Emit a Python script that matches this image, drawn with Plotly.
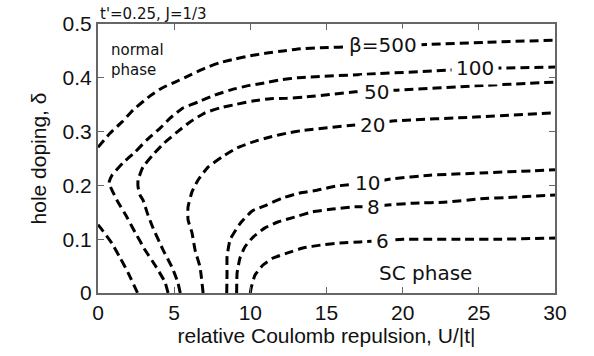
import plotly.graph_objects as go

# ---- data (U/|t|, hole doping) ----
u_500_upper = [0, 0.79, 1.58, 2.3, 3.4, 4.2, 5.06, 6.04, 7.03, 8.0, 9.0, 10.0, 11.1, 12.15, 13.3, 14.6, 17.0, 18.7, 21.7, 25.5, 30]
d_500_upper = [0.271, 0.297, 0.318, 0.340, 0.366, 0.381, 0.392, 0.405, 0.418, 0.428, 0.435, 0.441, 0.446, 0.450, 0.454, 0.456, 0.458, 0.460, 0.462, 0.466, 0.470]
u_500_lower = [0, 0.33, 0.92, 1.44, 1.97, 2.6]
d_500_lower = [0.127, 0.115, 0.092, 0.066, 0.038, 0.0]

u_100 = [4.6, 4.40, 3.74, 3.09, 2.43, 1.90, 1.31, 0.92, 0.72, 0.92, 1.64, 2.43, 3.22, 4.1, 4.73, 5.58, 6.57, 7.68, 8.67, 9.78, 10.83, 11.95, 13.07, 17.9, 22.9, 24.75, 30]
d_100 = [0.0, 0.020, 0.052, 0.080, 0.113, 0.141, 0.169, 0.191, 0.205, 0.219, 0.242, 0.262, 0.285, 0.307, 0.325, 0.344, 0.355, 0.368, 0.377, 0.385, 0.390, 0.396, 0.400, 0.407, 0.414, 0.417, 0.420]

u_50 = [5.4, 5.25, 4.86, 4.27, 3.61, 3.28, 2.95, 2.76, 2.63, 2.63, 2.95, 3.61, 4.35, 5.19, 6.04, 7.03, 8.0, 9.13, 10.18, 11.3, 12.4, 13.5, 16.9, 18.3, 19.6, 24.75, 30]
d_50 = [0.0, 0.019, 0.048, 0.080, 0.121, 0.145, 0.173, 0.182, 0.197, 0.210, 0.234, 0.257, 0.279, 0.299, 0.318, 0.335, 0.344, 0.351, 0.357, 0.361, 0.362, 0.364, 0.374, 0.376, 0.377, 0.385, 0.392]

u_20 = [6.9, 6.70, 6.37, 6.17, 5.91, 5.91, 6.17, 6.57, 7.22, 8.14, 9.15, 10.18, 11.3, 12.4, 13.4, 16.7, 18.05, 19.5, 24.75, 30]
d_20 = [0.0, 0.048, 0.080, 0.112, 0.136, 0.160, 0.188, 0.210, 0.234, 0.253, 0.270, 0.281, 0.290, 0.297, 0.302, 0.312, 0.315, 0.320, 0.327, 0.335]

u_10 = [8.45, 8.47, 8.47, 8.67, 9.3, 10.1, 11.1, 12.15, 13.26, 14.38, 15.7, 17.66, 19.2, 21.8, 25.1, 28.4, 30]
d_10 = [0.0, 0.037, 0.067, 0.099, 0.128, 0.152, 0.164, 0.177, 0.186, 0.191, 0.199, 0.204, 0.212, 0.219, 0.223, 0.227, 0.229]

u_8 = [9.1, 9.13, 9.32, 9.65, 10.18, 10.96, 11.8, 12.9, 14.1, 15.4, 16.7, 18.06, 19.2, 20.7, 22.9, 25.1, 27.2, 30]
d_8 = [0.0, 0.037, 0.065, 0.086, 0.104, 0.121, 0.132, 0.141, 0.151, 0.156, 0.160, 0.161, 0.164, 0.167, 0.169, 0.175, 0.178, 0.182]

u_6 = [10.0, 10.05, 10.3, 10.83, 11.5, 12.4, 13.5, 14.6, 15.9, 17.2, 18.7, 20.0, 21.8, 24.0, 26.2, 30]
d_6 = [0.0, 0.009, 0.033, 0.052, 0.065, 0.074, 0.084, 0.089, 0.093, 0.095, 0.097, 0.100, 0.100, 0.100, 0.100, 0.102]

curves = [
    (u_500_upper, d_500_upper), (u_500_lower, d_500_lower),
    (u_100, d_100), (u_50, d_50), (u_20, d_20),
    (u_10, d_10), (u_8, d_8), (u_6, d_6),
]

label_texts = ["β=500", "100", "50", "20", "10", "8", "6"]
label_u = [18.7, 24.75, 18.3, 18.05, 17.66, 18.06, 18.7]
label_d = [0.461, 0.418, 0.374, 0.313, 0.204, 0.159, 0.096]

x_ticks = [0, 5, 10, 15, 20, 25, 30]
y_ticks = [0, 0.1, 0.2, 0.3, 0.4, 0.5]
y_ticktext = ["0", "0.1", "0.2", "0.3", "0.4", "0.5"]

fig = go.Figure()
for u, d in curves:
    fig.add_trace(go.Scatter(
        x=u, y=d, mode="lines",
        line=dict(color="black", width=3, dash="9px,5px", shape="spline", smoothing=0.4),
        showlegend=False, hoverinfo="skip"))

inline_font = dict(family="DejaVu Sans", size=20, color="#111")
for t, x, y in zip(label_texts, label_u, label_d):
    fig.add_annotation(x=x, y=y, text=t, showarrow=False, font=inline_font,
                       bgcolor="white", borderpad=4, xanchor="center", yanchor="middle")

fig.add_annotation(x=21.5, y=0.037, text="SC phase", showarrow=False,
                   font=dict(family="DejaVu Sans", size=20, color="#111"))
fig.add_annotation(x=0.75, y=0.472, text="normal<br>phase", showarrow=False, align="left",
                   xanchor="left", yanchor="top",
                   font=dict(family="DejaVu Sans", size=15, color="#111"))
fig.add_annotation(xref="paper", yref="paper", x=0, y=1, xanchor="left", yanchor="bottom",
                   xshift=0, yshift=-1, text="t'=0.25, J=1/3", showarrow=False,
                   font=dict(family="DejaVu Sans", size=15, color="#111"))

axis_common = dict(showline=True, linecolor="#666", linewidth=2, mirror="ticks",
                   ticks="inside", ticklen=6, tickcolor="#666", tickwidth=1,
                   showgrid=False, zeroline=False,
                   tickfont=dict(family="Liberation Sans", size=21, color="#111"))

fig.update_layout(
    width=594, height=356,
    margin=dict(l=98, r=39, t=24, b=63),
    paper_bgcolor="white", plot_bgcolor="white",
    xaxis=dict(range=[0, 30], tickvals=x_ticks, ticktext=[str(v) for v in x_ticks],
               title=dict(text="relative Coulomb repulsion, U/|t|", standoff=5,
                          font=dict(family="Liberation Sans", size=21, color="#111")),
               **axis_common),
    yaxis=dict(range=[0, 0.5], tickvals=y_ticks, ticktext=y_ticktext,
               title=dict(text="hole doping, δ", standoff=10,
                          font=dict(family="Liberation Sans", size=21, color="#111")),
               **axis_common),
)

fig.write_html("out.html")
